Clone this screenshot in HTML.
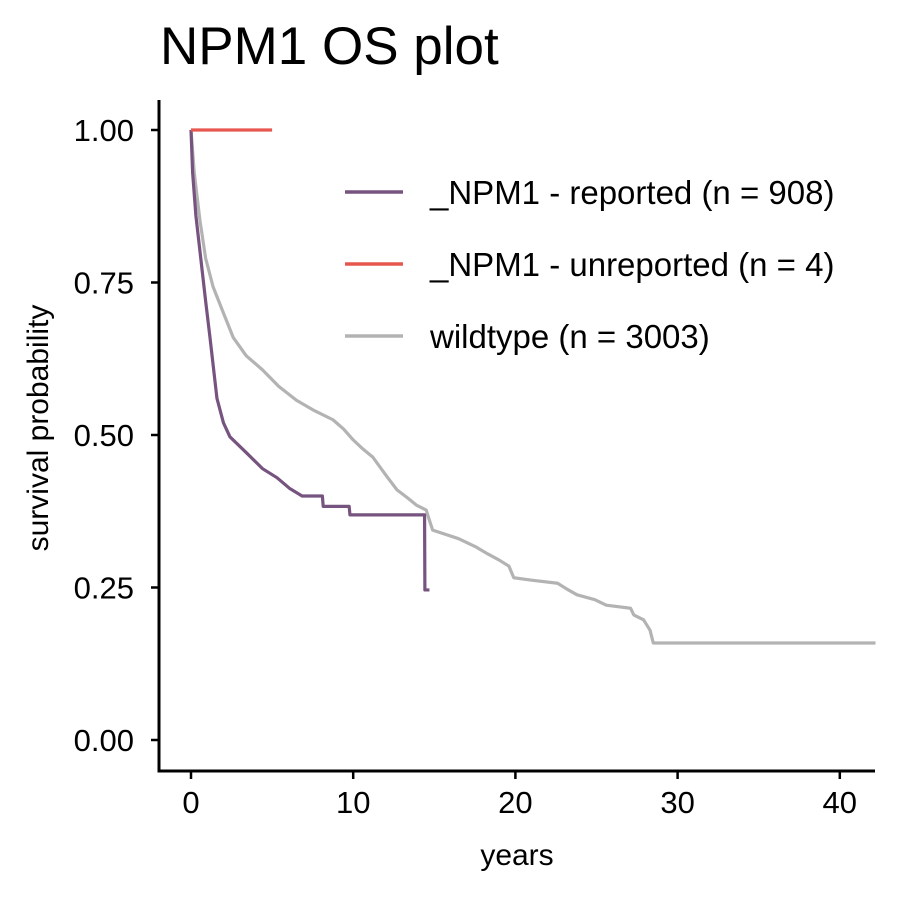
<!DOCTYPE html>
<html><head><meta charset="utf-8"><style>
body{margin:0;background:#fff;}
svg text{font-family:"Liberation Sans",Arial,sans-serif;}
</style></head><body>
<svg id="chart" width="900" height="900" viewBox="0 0 900 900">
<text x="160" y="64" font-size="53" fill="#000">NPM1 OS plot</text>
<g id="plot"></g>
</svg>
<script>
const xTicks=[0,10,20,30,40];
const yTicks=[0,0.25,0.5,0.75,1];
const yTickLabels=["0.00","0.25","0.50","0.75","1.00"];
const reportedT=[0,0.1,0.3,0.6,0.9,1.17,1.6,2.0,2.4,3.45,4.4,5.3,6.1,6.85,8.1,8.15,8.6,9.75,9.8,14.4,14.42,14.7];
const reportedS=[1,0.93,0.86,0.79,0.72,0.66,0.56,0.52,0.497,0.47,0.445,0.43,0.412,0.40,0.40,0.383,0.383,0.383,0.369,0.369,0.246,0.246];
const unreportedT=[0,5.0];
const unreportedS=[1,1];
const wildT=[0,0.2,0.55,0.9,1.36,2.0,2.6,3.4,4.4,5.4,6.5,7.6,8.75,9.4,10,10.6,11.2,12.1,12.7,13.3,13.9,14.5,14.7,14.9,16.5,17.6,18.3,19,19.6,19.9,21,22.6,23.2,23.8,24.9,25.6,27.1,27.3,27.9,28.3,28.5,42.2];
const wildS=[1,0.93,0.852,0.79,0.743,0.70,0.66,0.63,0.607,0.58,0.557,0.54,0.525,0.51,0.492,0.477,0.464,0.431,0.41,0.398,0.385,0.377,0.36,0.344,0.33,0.316,0.305,0.295,0.285,0.266,0.262,0.257,0.247,0.238,0.23,0.221,0.216,0.205,0.197,0.18,0.159,0.159];
const seriesNames=["_NPM1 - reported (n = 908)","_NPM1 - unreported (n = 4)","wildtype (n = 3003)"];
const seriesColors=["#76547f","#e8574f","#b3b3b3"];

const X=t=>191+16.22*t;
const Y=s=>740-610*s;
const NS="http://www.w3.org/2000/svg";
const g=document.getElementById('plot');
function mk(tag,attrs){const e=document.createElementNS(NS,tag);for(const k in attrs)e.setAttribute(k,attrs[k]);g.appendChild(e);return e;}

let ax=mk('path',{d:'M159 100 V771 H875',fill:'none',stroke:'#000','stroke-width':3});


xTicks.forEach(t=>{
  let l=mk('line',{x1:X(t),x2:X(t),y1:771,y2:779,stroke:'#000','stroke-width':2.5});
  
  
  let tx=mk('text',{x:X(t),y:813,'font-size':31,'text-anchor':'middle',fill:'#000'});tx.textContent=t;
  
  
});
yTicks.forEach((s,i)=>{
  let l=mk('line',{x1:151,x2:159,y1:Y(s),y2:Y(s),stroke:'#000','stroke-width':2.5});
  
  
  let tx=mk('text',{x:134,y:Y(s)+11,'font-size':31,'text-anchor':'end',fill:'#000'});tx.textContent=yTickLabels[i];
  
  
});
let xt=mk('text',{x:517,y:865,'font-size':30,'text-anchor':'middle',fill:'#000'});xt.textContent='years';


let yt=mk('text',{x:0,y:0,'font-size':30,'text-anchor':'middle',fill:'#000',transform:'translate(48,428) rotate(-90)'});yt.textContent='survival probability';



function line(T,S){let d='M'+X(T[0])+' '+Y(S[0]);for(let i=1;i<T.length;i++){d+=' L'+X(T[i])+' '+Y(S[i]);}return d;}
const all=[[wildT,wildS,2],[reportedT,reportedS,0],[unreportedT,unreportedS,1]];
all.forEach(([T,S,c])=>{
  let p=mk('path',{d:line(T,S),fill:'none',stroke:seriesColors[c],'stroke-width':3.2,'stroke-linejoin':'round'});
  
  
});
seriesNames.forEach((n,i)=>{
  const y=192+72*i;
  let l=mk('line',{x1:345,x2:403,y1:y,y2:y,stroke:seriesColors[i],'stroke-width':3.5});
  
  
  let tx=mk('text',{x:430,y:y+12,'font-size':33,fill:'#000',textLength:0});tx.removeAttribute('textLength');tx.textContent=n;
  
  
});
</script>
</body></html>
